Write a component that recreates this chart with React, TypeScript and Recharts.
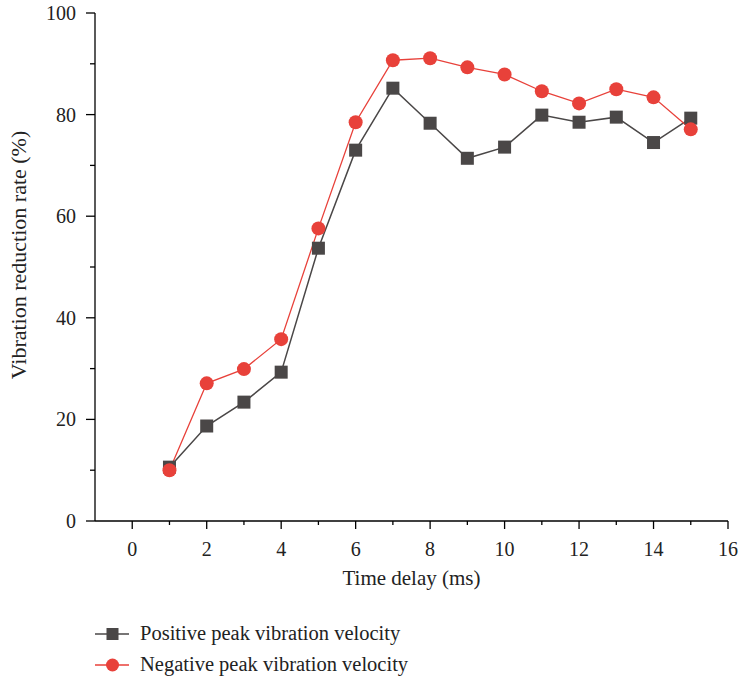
import React from 'react';
import { LineChart, Line, XAxis, YAxis, Legend } from 'recharts';

const delays = [1, 2, 3, 4, 5, 6, 7, 8, 9, 10, 11, 12, 13, 14, 15];
const positivePeak = [10.6, 18.7, 23.4, 29.3, 53.7, 73.0, 85.2, 78.3, 71.4, 73.6, 79.9, 78.5, 79.5, 74.5, 79.3];
const negativePeak = [10.0, 27.1, 29.9, 35.8, 57.6, 78.5, 90.7, 91.1, 89.3, 87.9, 84.6, 82.2, 85.0, 83.4, 77.1];

const xTicks = [0, 1, 2, 3, 4, 5, 6, 7, 8, 9, 10, 11, 12, 13, 14, 15, 16];
const yTicks = [0, 10, 20, 30, 40, 50, 60, 70, 80, 90, 100];

const POS_COLOR = '#4a4747';
const NEG_COLOR = '#e8413a';
const FONT = '"Liberation Serif", "DejaVu Serif", serif';

const data = delays.map((d, i) => ({ delay: d, pos: positivePeak[i], neg: negativePeak[i] }));

const XTick = (props: any) => {
    const { x, y, payload } = props;
    const major = payload.value % 2 === 0;
    return (
        <g>
            <line x1={x} x2={x} y1={y} y2={y + (major ? 8 : 4)} stroke='#000' strokeWidth={1.3} />
            {major && (
                <text x={x} y={y + 35} textAnchor='middle' fontSize={20} fontFamily={FONT} fill='#222'>
                    {payload.value}
                </text>
            )}
        </g>
    );
};

const YTick = (props: any) => {
    const { x, y, payload } = props;
    const major = payload.value % 20 === 0;
    return (
        <g>
            <line x1={x - (major ? 9 : 5)} x2={x} y1={y} y2={y} stroke='#000' strokeWidth={1.3} />
            {major && (
                <text x={x - 19} y={y + 7} textAnchor='end' fontSize={20} fontFamily={FONT} fill='#222'>
                    {payload.value}
                </text>
            )}
        </g>
    );
};

// y title sits a little above the plot's middle in the original
const YTitle = () => (
    <text
        x={26}
        y={255}
        transform='rotate(-90, 26, 255)'
        textAnchor='middle'
        fontSize={22}
        fontFamily={FONT}
        fill='#222'
    >
        Vibration reduction rate (%)
    </text>
);

const SquareDot = (props: any) => {
    const { cx, cy, key } = props;
    return <rect key={key} x={cx - 6.5} y={cy - 6.5} width={13} height={13} fill={POS_COLOR} />;
};

const renderLegend = () => (
    <div style={{ width: 420, height: 62, fontFamily: FONT, fontSize: 20.5, color: '#222' }}>
        <div style={{ display: 'flex', alignItems: 'center', height: 31 }}>
            <svg width={48} height={20}>
                <line x1={3} x2={37} y1={10} y2={10} stroke={POS_COLOR} strokeWidth={1.5} />
                <rect x={14.5} y={4} width={12} height={12} fill={POS_COLOR} />
            </svg>
            <span>Positive peak vibration velocity</span>
        </div>
        <div style={{ display: 'flex', alignItems: 'center', height: 31 }}>
            <svg width={48} height={20}>
                <line x1={3} x2={37} y1={10} y2={10} stroke={NEG_COLOR} strokeWidth={1.3} />
                <circle cx={20.5} cy={10} r={6.5} fill={NEG_COLOR} />
            </svg>
            <span>Negative peak vibration velocity</span>
        </div>
    </div>
);

export default function App() {
    return (
        <div style={{ position: 'absolute', left: 0, top: 0, width: 739, height: 680, background: '#fff' }}>
            <LineChart width={739} height={680} data={data} margin={{ top: 13, right: 11, bottom: 0, left: 0 }}>
                <XAxis
                    dataKey='delay'
                    type='number'
                    domain={[-1, 16]}
                    ticks={xTicks}
                    interval={0}
                    tickSize={0}
                    tickMargin={0}
                    tick={<XTick />}
                    height={97}
                    axisLine={{ stroke: '#000', strokeWidth: 1.3 }}
                    label={{ value: 'Time delay (ms)', position: 'insideBottom', offset: 33, fontSize: 21, fontFamily: FONT, fill: '#222' }}
                />
                <YAxis
                    type='number'
                    domain={[0, 100]}
                    ticks={yTicks}
                    interval={0}
                    tickSize={0}
                    tickMargin={0}
                    tick={<YTick />}
                    width={95}
                    axisLine={{ stroke: '#000', strokeWidth: 1.3 }}
                    label={{ content: YTitle }}
                />
                <Legend
                    verticalAlign='bottom'
                    align='left'
                    layout='horizontal'
                    content={renderLegend}
                    wrapperStyle={{ left: 92, top: 618, width: 420, height: 62 }}
                />
                <Line
                    dataKey='pos'
                    name='Positive peak vibration velocity'
                    stroke={POS_COLOR}
                    strokeWidth={1.5}
                    dot={SquareDot}
                    activeDot={false}
                    isAnimationActive={false}
                />
                <Line
                    dataKey='neg'
                    name='Negative peak vibration velocity'
                    stroke={NEG_COLOR}
                    strokeWidth={1.3}
                    dot={{ r: 7, fill: NEG_COLOR, stroke: 'none' }}
                    activeDot={false}
                    isAnimationActive={false}
                />
            </LineChart>
        </div>
    );
}
